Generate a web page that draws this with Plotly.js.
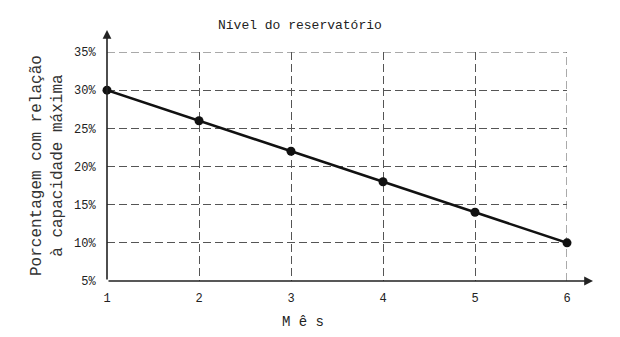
<!DOCTYPE html>
<html><head><meta charset="utf-8">
<script src="https://cdn.plot.ly/plotly-3.0.1.min.js"></script>
<style>body{margin:0;background:#fff}</style>
</head><body>
<div id="chart" style="width:620px;height:337px"></div>
<script>
const months = [1, 2, 3, 4, 5, 6];
const levels = [30, 26, 22, 18, 14, 10];
const yTicks = [5, 10, 15, 20, 25, 30, 35];
const yTickLabels = ['5%', '10%', '15%', '20%', '25%', '30%', '35%'];
const titleText = 'Nível do reservatório';
const xTitle = 'M ê s';
const yTitle = 'Porcentagem com relação<br>à capacidade máxima';

const mono = 'Liberation Mono, Courier New, monospace';
const gridColor = '#555';
const gridDash = '8px,4px';
const trace = {
  x: months, y: levels, type: 'scatter', mode: 'lines+markers',
  line: {color: '#111', width: 2.6},
  marker: {color: '#111', size: 9},
  cliponaxis: false, hoverinfo: 'skip'
};
const gridStyle = {showgrid: true, gridcolor: gridColor, griddash: gridDash, gridwidth: 1};
const xMax = months[months.length - 1];
const yMax = yTicks[yTicks.length - 1];
const layout = {
  width: 620, height: 337,
  margin: {l: 107, r: 53, t: 52, b: 56},
  paper_bgcolor: '#fff', plot_bgcolor: '#fff',
  showlegend: false,
  font: {family: mono, color: '#222', size: 12},
  xaxis: Object.assign({
    range: [months[0], xMax], tickvals: months, ticktext: months.map(String),
    zeroline: false, showline: false,
    ticks: 'outside', ticklen: 6, tickcolor: 'rgba(0,0,0,0)',
    tickfont: {family: mono, size: 12, color: '#222'}
  }, gridStyle),
  yaxis: Object.assign({
    range: [yTicks[0], yMax], tickvals: yTicks, ticktext: yTickLabels,
    zeroline: false, showline: false,
    ticks: 'outside', ticklen: 8, tickcolor: 'rgba(0,0,0,0)',
    tickfont: {family: mono, size: 12, color: '#222'}
  }, gridStyle),
  shapes: [
    {type: 'line', layer: 'below', xref: 'x', yref: 'y', x0: months[0], x1: xMax, y0: yMax, y1: yMax,
     line: {color: gridColor, width: 1, dash: gridDash}},
    {type: 'line', layer: 'below', xref: 'x', yref: 'y', x0: xMax, x1: xMax, y0: yTicks[0], y1: yMax,
     line: {color: gridColor, width: 1, dash: gridDash}}
  ],
  annotations: [
    {text: titleText, xref: 'paper', yref: 'paper', x: (300-107)/460, y: (281-25)/229,
     showarrow: false, xanchor: 'center', yanchor: 'middle',
     font: {family: mono, size: 13, color: '#222'}},
    {text: xTitle, xref: 'paper', yref: 'paper', x: (303-107)/460, y: (281-322)/229,
     showarrow: false, xanchor: 'center', yanchor: 'middle',
     font: {family: mono, size: 14, color: '#222'}},
    {text: yTitle, xref: 'paper', yref: 'paper', x: (47-107)/460, y: (281-166)/229,
     showarrow: false, xanchor: 'center', yanchor: 'middle', textangle: -90,
     font: {family: mono, size: 16, color: '#333'}},
    {text: '', xref: 'paper', yref: 'paper', x: 0, y: (281-30)/229,
     ax: 0, ay: 251, showarrow: true, arrowhead: 2, arrowsize: 1.1, arrowwidth: 1.6, arrowcolor: '#222'},
    {text: '', xref: 'paper', yref: 'paper', x: (593-107)/460, y: 0,
     ax: -486, ay: 0, showarrow: true, arrowhead: 2, arrowsize: 1.1, arrowwidth: 1.6, arrowcolor: '#222'}
  ]
};
Plotly.newPlot('chart', [trace], layout, {displayModeBar: false, staticPlot: true});
</script>
</body></html>
